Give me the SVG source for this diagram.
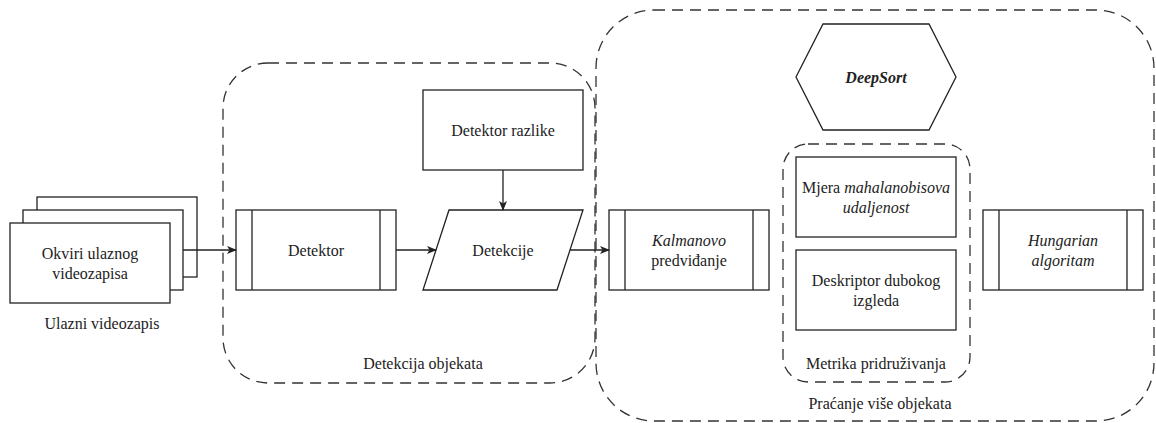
<svg xmlns="http://www.w3.org/2000/svg" width="1156" height="423" viewBox="0 0 1156 423" font-family="Liberation Serif, DejaVu Serif, serif">
<defs>
<style>
.box{fill:#fff;stroke:#222;stroke-width:1.3}
.grp{fill:none;stroke:#333;stroke-width:1.3;stroke-dasharray:11 7}
.ln{fill:none;stroke:#222;stroke-width:1.3}
text{font-family:'Liberation Serif','DejaVu Serif',serif;font-size:16px;fill:#222;text-anchor:middle;dominant-baseline:central}
.it{font-style:italic}
.bi{font-style:italic;font-weight:bold}
</style>
<marker id="arr" viewBox="0 0 10 10" refX="9" refY="5" markerWidth="10" markerHeight="10" markerUnits="userSpaceOnUse" orient="auto">
<path d="M0,1 L10,5 L0,9 L2.5,5 Z" fill="#222"/>
</marker>
</defs>
<g id="group-detekcija">
<rect class="grp" x="223" y="63" width="372" height="320" rx="45" ry="45"/>
<text x="423" y="363">Detekcija objekata</text>
</g>
<g id="group-pracenje">
<rect class="grp" x="596" y="10" width="558" height="411" rx="58" ry="58"/>
<text x="880" y="403">Praćanje više objekata</text>
</g>
<g id="group-metrika">
<rect class="grp" x="783" y="144" width="187" height="238" rx="25" ry="25"/>
<text x="876" y="363">Metrika pridruživanja</text>
</g>
<g id="node-ulazni">
<rect class="box" x="37" y="197" width="160" height="80"/>
<rect class="box" x="23" y="210" width="160" height="80"/>
<rect class="box" x="10" y="223" width="160" height="80"/>
<text x="90" y="253">Okviri ulaznog</text>
<text x="90" y="273">videozapisa</text>
<text x="102" y="323">Ulazni videozapis</text>
</g>
<g id="node-detektor">
<rect class="box" x="236" y="210" width="160" height="80"/>
<line class="ln" x1="252" y1="210" x2="252" y2="290"/>
<line class="ln" x1="380" y1="210" x2="380" y2="290"/>
<text x="316" y="250">Detektor</text>
</g>
<g id="node-razlike">
<rect class="box" x="423" y="90" width="160" height="80"/>
<text x="503" y="130">Detektor razlike</text>
</g>
<g id="node-detekcije">
<polygon class="box" points="449,210 583,210 557,290 423,290"/>
<text x="503" y="250">Detekcije</text>
</g>
<g id="node-kalman">
<rect class="box" x="609" y="210" width="160" height="80"/>
<line class="ln" x1="625" y1="210" x2="625" y2="290"/>
<line class="ln" x1="753" y1="210" x2="753" y2="290"/>
<text x="689" y="240" class="it">Kalmanovo</text>
<text x="689" y="260">predviđanje</text>
</g>
<g id="node-deepsort">
<polygon class="box" points="796,77 823,24 929,24 956,77 929,130 823,130"/>
<text x="876" y="77" class="bi">DeepSort</text>
</g>
<g id="node-mjera">
<rect class="box" x="796" y="157" width="160" height="80"/>
<text x="876" y="187">Mjera <tspan class="it">mahalanobisova</tspan></text>
<text x="876" y="207" class="it">udaljenost</text>
</g>
<g id="node-deskriptor">
<rect class="box" x="796" y="250" width="160" height="80"/>
<text x="876" y="280">Deskriptor dubokog</text>
<text x="876" y="300">izgleda</text>
</g>
<g id="node-hungarian">
<rect class="box" x="983" y="210" width="160" height="80"/>
<line class="ln" x1="999" y1="210" x2="999" y2="290"/>
<line class="ln" x1="1127" y1="210" x2="1127" y2="290"/>
<text x="1063" y="240" class="it">Hungarian</text>
<text x="1063" y="260" class="it">algoritam</text>
</g>
<g id="connectors">
<line class="ln" x1="183" y1="250" x2="236" y2="250" marker-end="url(#arr)"/>
<line class="ln" x1="396" y1="250" x2="436" y2="250" marker-end="url(#arr)"/>
<line class="ln" x1="503" y1="170" x2="503" y2="210" marker-end="url(#arr)"/>
<line class="ln" x1="570" y1="250" x2="609" y2="250" marker-end="url(#arr)"/>
</g>
</svg>
